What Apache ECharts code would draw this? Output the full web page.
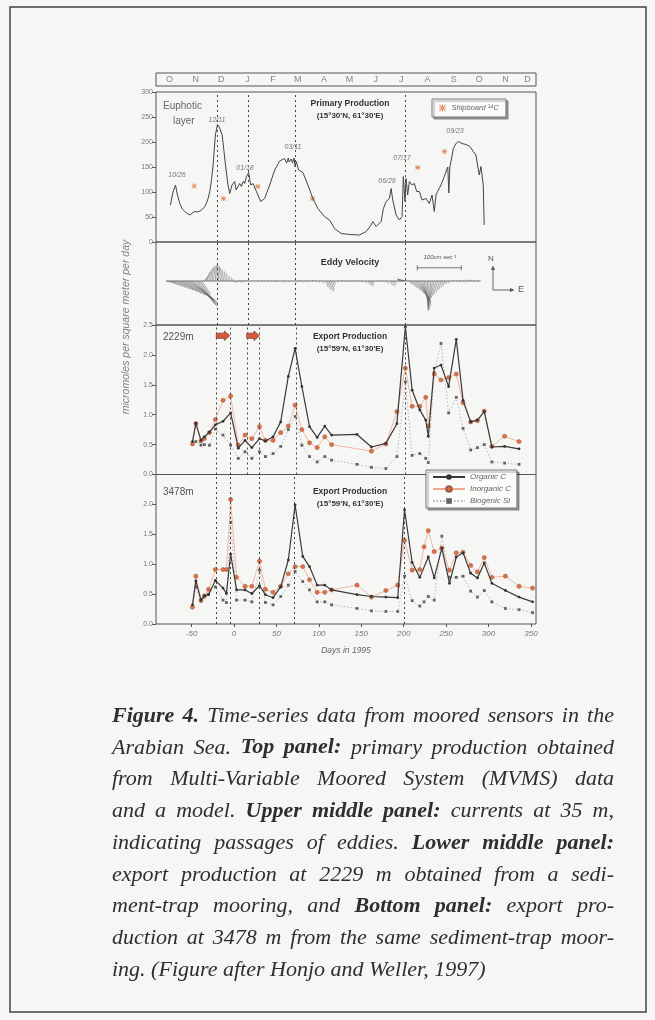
<!DOCTYPE html>
<html><head><meta charset="utf-8">
<script src="https://cdn.jsdelivr.net/npm/echarts@6/dist/echarts.min.js"></script>
<style>html,body{margin:0;padding:0;background:#f6f6f4;}#chart{width:655px;height:1020px;}</style>
</head><body><div id="chart"></div>
<script>
// ---------------- DATA ----------------
const monthLabels = ['O','N','D','J','F','M','A','M','J','J','A','S','O','N','D'];
const monthCenters = [-76,-45,-15,16,46,75,106,136,167,197,228,259,289,320,346];
const dayTicks = [-50,0,50,100,150,200,250,300,350];

// Primary production (top panel)
const ppDays = [-75,-72,-69,-67,-64,-61,-58,-55,-52,-49,-46,-43,-40,-37,-34.5,-32,-30.6,-28.6,-26.5,-24.7,-22,-19.5,-17.5,-15.6,-14,-11.8,-9.8,-7.1,-5.1,-2.4,0.8,2.5,4.7,6.7,8.7,11.1,12.6,14.6,16.5,17.3,19.6,22.4,26.4,31.4,36.1,42,47.9,53.8,59.6,62,64,65,67.5,69,70.8,72,73.4,76.1,81.2,87.1,92.9,98.8,106.7,112.6,118.5,126.4,136,147.9,155.8,161.6,163.5,167.5,173.4,176.1,179.3,183.2,185.2,187.1,191.1,194.9,198.1,199.6,201.6,202.8,204.7,206.7,209.9,212.6,215.3,218.5,221.6,226.4,230.2,233.4,236.1,238.1,240,244,247.9,250.6,252,253.2,254.4,255.8,258.5,261.6,264.7,268.7,273.4,278.1,282,285.2,287.1,289.1,291.1,292.6,293.8,294.9];
const ppValues = [74,100,114,96,77,66,61,57,54,58,61,60,62,66,71,80,87,101,125,154,214,235,230,227,214,181,150,114,97,114,121,104,107,117,111,122,117,131,134,139,114,117,101,81,87,114,144,162,167,158,168,160,166,158,168,150,161,144,139,114,87,67,51,44,27,17,15,14,21,34,41,31,41,67,81,87,107,84,54,44,51,131,81,127,94,121,114,117,101,101,84,87,77,94,61,94,101,114,131,144,150,98,150,161,187,197,201,197,195,191,181,174,154,134,151,147,114,34];
const shipDays = [-47,-12.5,28,92.6,216.5,248];
const shipValues = [112,87,111,87,149,181];
const ppDateLabels = ['10/26','12/11','01/18','03/11','06/29','07/17','09/23'];

// Eddy velocity (stick plot), cm/s
const eddyDays = [-80,-78,-76,-74,-72,-70,-68,-66,-64,-62,-60,-58,-56,-54,-52,-50,-48,-46,-44,-42,-40,-38,-36,-34,-32,-30,-28,-26,-24,-22,-20,-18,-16,-14,-12,-10,-8,-6,-4,-2,0,2,4,6,8,10,12,14,16,20,24,28,32,36,40,44,48,52,56,60,64,68,72,76,80,84,88,92,96,100,104,108,110,112,114,116,118,122,126,130,134,138,142,146,150,154,158,160,162,164,168,172,176,180,184,186,188,190,194,196,198,200,202,204,206,208,210,212,214,216,218,220,222,224,226,228,230,232,234,236,238,240,242,244,246,248,250,252,254,258,262,266,270,274,278,282,286,290];
const eddyU = [4,8,12,16,20,25,30,35,40,45,50,55,60,62,62,60,56,50,44,38,30,20,10,8,6,6,5,4,3,2,0,-2,-3,-4,-4,-3,-2,0,2,3,3,2,3,4,3,2,3,2,3,2,-2,3,2,-1,3,2,4,2,3,-2,3,2,3,4,2,3,-2,3,2,3,4,6,8,10,8,5,3,2,3,2,3,-2,3,2,3,4,6,7,5,3,2,3,2,4,6,8,6,4,3,-6,-10,-14,-16,-12,10,15,20,25,30,30,28,24,18,12,6,2,-2,-5,-8,-10,-10,-9,-7,-5,-3,-2,0,2,3,2,3,4,3,5,4,3,4,2];
const eddyV = [-2,-4,-6,-9,-12,-15,-18,-21,-24,-28,-32,-36,-40,-44,-48,-52,-55,-57,-55,-52,-45,-30,8,14,20,25,29,32,34,36,37,36,34,30,26,22,17,12,8,5,-3,-4,2,-3,-2,3,-2,2,-1,1,-2,1,-3,2,-1,2,-2,1,-3,2,-2,1,-2,1,-3,2,-2,1,-2,-3,-6,-14,-20,-24,-20,-13,-7,-3,1,-2,2,-2,1,-2,-3,-5,-9,-12,-9,-5,-2,1,-3,-6,-10,-12,-8,-4,2,3,4,5,4,2,-8,-15,-22,-30,-38,-45,-50,-55,-60,-65,-68,-66,-62,-56,-50,-44,-38,-32,-26,-20,-15,-10,-7,-5,-3,2,-2,2,-2,3,2,-1,2,1];
const scaleBarDays = [216, 268];   // 100 cm/s reference
const scaleBarLevel = 30;

// Export production, 2229 m
const midDays = [-49,-45,-39,-35,-29,-22,-13,-4,5,13,21,30,37,46,55,64,72,80,89,98,107,115,145,162,179,192,202,210,219,226,229,236,244,253,262,270,279,287,295,304,319,336];
const midOrganic = [0.55,0.86,0.57,0.63,0.71,0.83,0.89,1.03,0.44,0.57,0.45,0.60,0.56,0.63,0.88,1.64,2.11,1.47,0.80,0.62,0.81,0.66,0.67,0.46,0.52,0.85,2.47,1.41,1.08,0.91,0.64,1.78,1.83,1.47,2.26,1.24,0.88,0.91,1.05,0.46,0.47,0.43];
const midInorganic = [0.51,0.85,0.56,0.60,0.70,0.92,1.24,1.31,0.49,0.66,0.60,0.80,0.57,0.57,0.70,0.81,1.16,0.75,0.53,0.45,0.63,0.50,null,0.39,0.51,1.05,1.78,1.14,1.14,1.29,0.81,1.68,1.58,1.62,1.68,1.20,0.88,0.90,1.06,0.47,0.64,0.55];
const midSilica = [0.50,0.55,0.49,0.50,0.49,0.76,0.66,0.49,0.27,0.38,0.27,0.38,0.30,0.35,0.47,0.75,0.97,0.49,0.30,0.21,0.30,0.24,0.17,0.12,0.10,0.30,1.55,0.32,0.35,0.27,0.20,1.70,2.19,1.03,1.29,0.77,0.41,0.45,0.50,0.21,0.19,0.17];

// Export production, 3478 m
const botDays = [-49,-45,-39,-35,-30,-22,-13,-9,-4,3,13,21,30,37,46,55,64,72,81,89,98,107,115,145,162,179,193,201,210,219,224,229,236,245,254,262,270,279,287,295,304,320,336,352];
const botOrganic = [0.32,0.72,0.40,0.47,0.49,0.73,0.60,0.51,1.17,0.57,0.57,0.51,0.64,0.49,0.44,0.62,1.07,1.99,1.13,0.96,0.65,0.65,0.57,0.49,0.46,0.45,0.44,1.91,1.03,0.78,null,1.12,0.77,1.27,0.68,1.12,1.19,0.85,0.77,1.02,0.68,0.56,0.45,0.37];
const botInorganic = [0.28,0.80,0.40,0.47,0.58,0.91,0.91,0.91,2.08,0.78,0.63,0.63,1.05,0.58,0.53,0.63,0.84,0.96,0.96,0.74,0.53,0.53,0.57,0.65,0.45,0.56,0.65,1.40,0.90,0.91,1.29,1.56,1.21,1.27,0.90,1.19,1.20,0.98,0.87,1.11,0.78,0.80,0.63,0.60];
const botSilica = [0.30,0.62,0.38,0.45,0.50,0.62,0.40,0.36,1.70,0.40,0.40,0.37,0.90,0.36,0.32,0.46,0.65,0.88,0.71,0.57,0.37,0.37,0.32,0.26,0.22,0.21,0.21,0.80,0.39,0.30,0.37,0.46,0.40,1.47,0.78,0.78,0.80,0.55,0.45,0.56,0.37,0.26,0.24,0.19];

// Event (dotted) lines and eddy arrows
const topEventDays = [-20,17,72,202];
const midEventDays = [-21,-4,15,30,73,202];
const botEventDays = [-21,-5,30,71,201];
const arrowStartDays = [-21,15];
const arrowEndDays = [-5,30];
const arrowLevel = 2.32;

const captionLines = [
  '**Figure 4.** Time-series data from moored sensors in the',
  'Arabian Sea. **Top panel:** primary production obtained',
  'from Multi-Variable Moored System (MVMS) data',
  'and a model. **Upper middle panel:** currents at 35 m,',
  'indicating passages of eddies. **Lower middle panel:**',
  'export production at 2229 m obtained from a sedi-',
  'ment-trap mooring, and **Bottom panel:** export pro-',
  'duction at 3478 m from the same sediment-trap moor-',
  'ing. (Figure after Honjo and Weller, 1997)'
];

// ---------------- LAYOUT / STYLE ----------------
const X_MIN = -92, X_MAX = 356, L = 156, W = 380;
const DAY_PER_CM = 0.52;
const SANS = '"Liberation Sans", Arial, sans-serif';
const BG = '#f6f6f4';
const gridBase = {left: L, width: W, show: true, borderColor: '#555', borderWidth: 1, backgroundColor: 'transparent', containLabel: false, outerBoundsMode: 'none'};
const zip = (a, b) => a.map((d, i) => [d, b[i]]);
const evLines = days => ({silent: true, symbol: ['none','none'], label: {show: false}, lineStyle: {type: [2,3], color: '#444', width: 1}, data: days.map(d => ({xAxis: d}))});
const yLab = {fontSize: 7, color: '#777', fontFamily: SANS, margin: 3};
const yTick = {show: true, length: 4, lineStyle: {color: '#555'}};
const noLine = {show: false, onZero: false};
const asterisk = 'path://M4.2,0h1.6v10h-1.6z M0,4.2h10v1.6h-10z M1.2,0.1l8.7,8.7l-1.1,1.1l-8.7,-8.7z M8.8,0.1l1.1,1.1l-8.7,8.7l-1.1,-1.1z';

const xAxes = [0,1,2,3,4].map(i => ({type: 'value', gridIndex: i, min: X_MIN, max: X_MAX, show: i === 4,
  axisLine: noLine, splitLine: {show: false},
  axisTick: {show: i === 4, length: 3, customValues: dayTicks, lineStyle: {color: '#555'}},
  axisLabel: {show: i === 4, customValues: dayTicks, fontSize: 8, fontStyle: 'italic', color: '#777', fontFamily: SANS, margin: 6},
  name: i === 4 ? 'Days in 1995' : '', nameLocation: 'middle', nameGap: 22,
  nameTextStyle: {fontSize: 8.5, fontStyle: 'italic', color: '#666', fontFamily: SANS}}));

const yAxes = [
  {type: 'value', gridIndex: 0, min: 0, max: 1, show: false, axisLine: noLine},
  {type: 'value', gridIndex: 1, min: 0, max: 300, interval: 50, axisLine: noLine, axisTick: yTick, splitLine: {show: false}, axisLabel: yLab},
  {type: 'value', gridIndex: 2, min: -100, max: 88.6, show: false, axisLine: noLine},
  {type: 'value', gridIndex: 3, min: 0, max: 2.5, interval: 0.5, axisLine: noLine, axisTick: yTick, splitLine: {show: false}, axisLabel: Object.assign({formatter: v => v.toFixed(1)}, yLab)},
  {type: 'value', gridIndex: 4, min: 0, max: 2.5, interval: 0.5, axisLine: noLine, axisTick: yTick, splitLine: {show: false}, axisLabel: Object.assign({formatter: v => v.toFixed(1), showMaxLabel: false}, yLab)}
];

function exportSeries(gi, days, org, inorg, si, events) {
  return [
    {name: 'Biogenic Si', type: 'line', xAxisIndex: gi, yAxisIndex: gi, data: zip(days, si), connectNulls: true,
     symbol: 'rect', symbolSize: 2.8, showSymbol: true, itemStyle: {color: '#5f6660'}, lineStyle: {color: '#b0b0b0', width: 0.9, type: [1.5,2]}, z: 2},
    {name: 'Inorganic C', type: 'line', xAxisIndex: gi, yAxisIndex: gi, data: zip(days, inorg), connectNulls: true,
     symbol: 'circle', symbolSize: 4.2, showSymbol: true, itemStyle: {color: '#e2703f', borderColor: '#9a5a48', borderWidth: 0.5}, lineStyle: {color: '#efa88b', width: 0.8}, z: 3},
    {name: 'Organic C', type: 'line', xAxisIndex: gi, yAxisIndex: gi, data: zip(days, org), connectNulls: true,
     symbol: 'circle', symbolSize: 2.8, showSymbol: true, itemStyle: {color: '#333'}, lineStyle: {color: '#3a3a3a', width: 1.2}, z: 4,
     markLine: evLines(events)}
  ];
}

const series = [
  {type: 'scatter', xAxisIndex: 0, yAxisIndex: 0, silent: true, symbolSize: 0,
   data: monthCenters.map((d, i) => [d, 0.5, monthLabels[i]]),
   label: {show: true, position: 'inside', formatter: p => p.data[2], fontSize: 9, color: '#666', fontFamily: SANS}},
  {name: 'Primary production', type: 'line', xAxisIndex: 1, yAxisIndex: 1, data: zip(ppDays, ppValues), showSymbol: false,
   lineStyle: {color: '#444', width: 1}, markLine: evLines(topEventDays)},
  {name: 'Shipboard ¹⁴C', type: 'scatter', xAxisIndex: 1, yAxisIndex: 1, data: zip(shipDays, shipValues),
   symbol: asterisk, symbolSize: 5, itemStyle: {color: '#e07a45'}},
  {type: 'line', xAxisIndex: 2, yAxisIndex: 2, data: [[eddyDays[0], 0], [eddyDays[eddyDays.length - 1], 0]], showSymbol: false,
   lineStyle: {color: '#555', width: 0.8}, markLine: evLines(topEventDays), silent: true},
  {type: 'custom', xAxisIndex: 2, yAxisIndex: 2, silent: true, clip: false,
   data: eddyDays.map((d, i) => [d, eddyU[i], eddyV[i]]), encode: {x: 0, y: 2},
   renderItem: (params, api) => {
     const t = api.value(0), u = api.value(1), v = api.value(2);
     const p0 = api.coord([t, 0]), p1 = api.coord([t + u * DAY_PER_CM, v]);
     return {type: 'line', shape: {x1: p0[0], y1: p0[1], x2: p1[0], y2: p1[1]}, style: {stroke: '#5a5a5a', lineWidth: 0.5}};
   }},
  {type: 'custom', xAxisIndex: 2, yAxisIndex: 2, silent: true,
   data: [[scaleBarDays[0], scaleBarDays[1], scaleBarLevel]], encode: {x: [0, 1], y: 2},
   renderItem: (params, api) => {
     const a = api.coord([api.value(0), api.value(2)]), b = api.coord([api.value(1), api.value(2)]);
     const st = {stroke: '#555', lineWidth: 0.8};
     return {type: 'group', children: [
       {type: 'line', shape: {x1: a[0], y1: a[1], x2: b[0], y2: b[1]}, style: st},
       {type: 'line', shape: {x1: a[0], y1: a[1] - 2.5, x2: a[0], y2: a[1] + 2.5}, style: st},
       {type: 'line', shape: {x1: b[0], y1: b[1] - 2.5, x2: b[0], y2: b[1] + 2.5}, style: st}]};
   }},
  ...exportSeries(3, midDays, midOrganic, midInorganic, midSilica, midEventDays),
  {type: 'custom', xAxisIndex: 3, yAxisIndex: 3, silent: true, z: 5,
   data: arrowStartDays.map((s, i) => [s, arrowEndDays[i], arrowLevel]), encode: {x: [0, 1], y: 2},
   renderItem: (params, api) => {
     const a = api.coord([api.value(0), api.value(2)]), b = api.coord([api.value(1), api.value(2)]);
     const y = a[1], h = 2.6, H = 4.8, hl = 5.5;
     return {type: 'polygon', shape: {points: [[a[0], y - h], [b[0] - hl, y - h], [b[0] - hl, y - H], [b[0], y], [b[0] - hl, y + H], [b[0] - hl, y + h], [a[0], y + h]]},
       style: {fill: '#d6593b', stroke: '#6e3b2e', lineWidth: 0.7}};
   }},
  ...exportSeries(4, botDays, botOrganic, botInorganic, botSilica, botEventDays)
];

// ---------------- GRAPHIC (annotations, caption, frame) ----------------
function txt(x, y, text, o) {
  o = o || {};
  return {type: 'text', x: x, y: y, rotation: o.rotation || 0, silent: true, z: 10,
    style: {text: text, fontSize: o.size || 8, fontFamily: o.family || SANS, fontStyle: o.italic ? 'italic' : 'normal',
      fontWeight: o.bold ? 'bold' : 'normal', fill: o.color || '#555',
      align: o.align || 'left', textAlign: o.align || 'left', verticalAlign: 'middle', textVerticalAlign: 'middle'}};
}
const g = [];
g.push({type: 'rect', shape: {x: 10, y: 7, width: 636, height: 1005}, style: {fill: 'none', stroke: '#444', lineWidth: 1.5}, silent: true});
g.push(txt(163, 106, 'Euphotic', {size: 10, color: '#666'}));
g.push(txt(173, 121, 'layer', {size: 10, color: '#666'}));
g.push(txt(350, 104, 'Primary Production', {size: 8.5, bold: true, align: 'center', color: '#333'}));
g.push(txt(350, 116, '(15°30\'N, 61°30\'E)', {size: 8, bold: true, align: 'center', color: '#333'}));
const dateLabelPos = [[177,175],[217,120],[245,168],[293,147],[387,181],[402,158],[455,131]];
ppDateLabels.forEach((s, i) => g.push(txt(dateLabelPos[i][0], dateLabelPos[i][1], s, {size: 7, italic: true, align: 'center', color: '#777'})));
g.push(txt(350, 263, 'Eddy Velocity', {size: 9, bold: true, align: 'center', color: '#333'}));
g.push(txt(440, 257, '100cm sec⁻¹', {size: 6, italic: true, align: 'center', color: '#555'}));
g.push(txt(491, 259, 'N', {size: 8, align: 'center', color: '#555'}));
g.push(txt(521, 290, 'E', {size: 9, align: 'center', color: '#555'}));
g.push({type: 'polyline', shape: {points: [[493, 267], [493, 290], [513, 290]]}, style: {stroke: '#555', lineWidth: 0.9, fill: null}, silent: true});
g.push({type: 'polygon', shape: {points: [[491, 270], [493, 265.5], [495, 270]]}, style: {fill: '#555'}, silent: true});
g.push({type: 'polygon', shape: {points: [[510, 288], [514.5, 290], [510, 292]]}, style: {fill: '#555'}, silent: true});
g.push(txt(163, 337, '2229m', {size: 10, color: '#555'}));
g.push(txt(350, 337, 'Export Production', {size: 8.5, bold: true, align: 'center', color: '#333'}));
g.push(txt(350, 348.5, '(15°59\'N, 61°30\'E)', {size: 8, bold: true, align: 'center', color: '#333'}));
g.push(txt(163, 492, '3478m', {size: 10, color: '#555'}));
g.push(txt(350, 492, 'Export Production', {size: 8.5, bold: true, align: 'center', color: '#333'}));
g.push(txt(350, 503.5, '(15°59\'N, 61°30\'E)', {size: 8, bold: true, align: 'center', color: '#333'}));
g.push(txt(126, 327, 'micromoles per square meter per day', {size: 10.5, italic: true, align: 'center', color: '#808080', rotation: Math.PI / 2}));

// caption, justified
const CAP_L = 112, CAP_R = 614, CAP_Y0 = 716, CAP_DY = 31.75, CAP_SIZE = 22, SERIF = '"Liberation Serif"';
const mctx = document.createElement('canvas').getContext('2d');
const capFont = b => 'italic ' + (b ? 'bold ' : '') + CAP_SIZE + 'px ' + SERIF;
captionLines.forEach((line, i) => {
  const words = [];
  line.split('**').forEach((seg, k) => seg.split(/\s+/).filter(Boolean).forEach(w => words.push({w: w, b: k % 2 === 1})));
  const widths = words.map(o => { mctx.font = capFont(o.b); return mctx.measureText(o.w).width; });
  const total = widths.reduce((a, b) => a + b, 0);
  mctx.font = capFont(false);
  const last = i === captionLines.length - 1;
  const gap = last ? mctx.measureText(' ').width : (CAP_R - CAP_L - total) / (words.length - 1);
  let x = CAP_L;
  words.forEach((o, j) => {
    g.push(txt(x, CAP_Y0 + i * CAP_DY, o.w, {size: CAP_SIZE, italic: true, bold: o.b, family: SERIF, color: '#2e2e2e'}));
    x += widths[j] + gap;
  });
});

const option = {
  animation: false,
  backgroundColor: BG,
  grid: [
    Object.assign({}, gridBase, {top: 73, height: 13}),
    Object.assign({}, gridBase, {top: 92, height: 150}),
    Object.assign({}, gridBase, {top: 242, height: 83}),
    Object.assign({}, gridBase, {top: 325, height: 149.5}),
    Object.assign({}, gridBase, {top: 474.5, height: 149.5})
  ],
  xAxis: xAxes,
  yAxis: yAxes,
  legend: [
    {data: ['Shipboard ¹⁴C'], left: 432, top: 99, orient: 'vertical', padding: [5, 7], itemWidth: 8, itemHeight: 7,
     backgroundColor: '#fbfbfa', borderColor: '#777', borderWidth: 1, shadowColor: 'rgba(0,0,0,0.35)', shadowOffsetX: 2, shadowOffsetY: 2, shadowBlur: 1,
     textStyle: {fontSize: 7.5, fontStyle: 'italic', color: '#666', fontFamily: SANS}, selectedMode: false},
    {data: ['Organic C', 'Inorganic C', 'Biogenic Si'], left: 426, top: 470, orient: 'vertical', padding: [3, 6], itemGap: 4, itemWidth: 32, itemHeight: 7,
     backgroundColor: '#fbfbfa', borderColor: '#777', borderWidth: 1, shadowColor: 'rgba(0,0,0,0.35)', shadowOffsetX: 2, shadowOffsetY: 2, shadowBlur: 1,
     textStyle: {fontSize: 8, fontStyle: 'italic', color: '#666', fontFamily: SANS}, selectedMode: false}
  ],
  graphic: {elements: g},
  series: series
};
const chart = echarts.init(document.getElementById('chart'), null, {renderer: 'canvas'});
chart.setOption(option);
</script></body></html>
